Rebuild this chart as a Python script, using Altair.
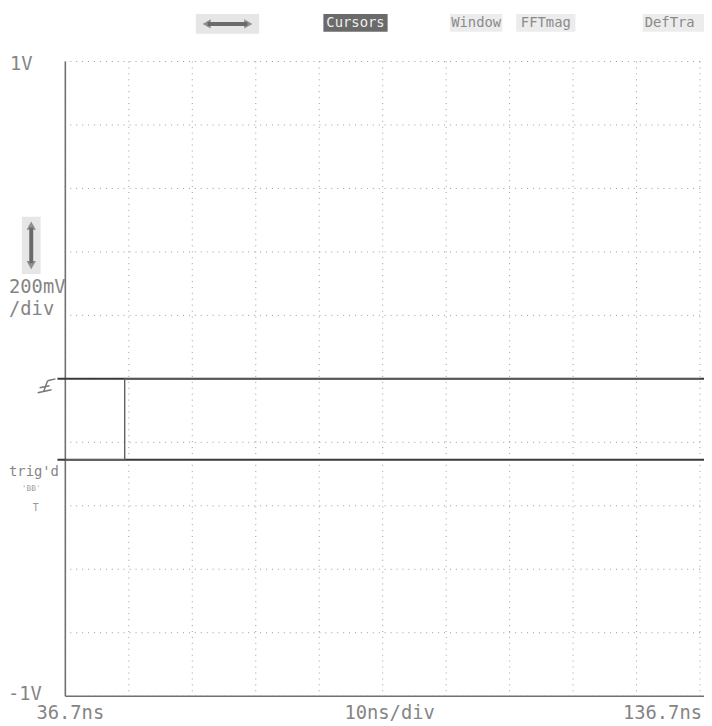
import altair as alt
import pandas as pd

# ---- data ----
time_ns = [36.7, 46.05, 46.05, 136.7]
volts = [-0.255, -0.255, 0.0, 0.0]
x_grid = [36.7, 46.7, 56.7, 66.7, 76.7, 86.7, 96.7, 106.7, 116.7, 126.7, 136.7]
y_grid = [-1.0, -0.8, -0.6, -0.4, -0.2, 0.0, 0.2, 0.4, 0.6, 0.8, 1.0]
marker_levels = [0.0, -0.255]
menu_items = ["Cursors", "Window", "FFTmag", "DefTra"]

W, H = 642, 642
xs = alt.Scale(domain=[36.7, 136.7], nice=False, zero=False)
ys = alt.Scale(domain=[-1.0, 1.0], nice=False, zero=False)

FONT = "DejaVu Sans Mono"
TXT = "#858585"

trace_df = pd.DataFrame({"t": time_ns, "v": volts, "o": list(range(len(time_ns)))})
xg_df = pd.DataFrame({"t": x_grid})
yg_df = pd.DataFrame({"v": y_grid})
mk_df = pd.DataFrame({"v": marker_levels})
one = pd.DataFrame({"a": [0]})

vgrid = alt.Chart(xg_df).mark_rule(color="#9a9a9a", strokeDash=[1, 5], strokeWidth=1).encode(
    x=alt.X("t:Q", scale=xs, axis=None))
hgrid = alt.Chart(yg_df).mark_rule(color="#9a9a9a", strokeDash=[1, 5], strokeWidth=1).encode(
    y=alt.Y("v:Q", scale=ys, axis=None))

left_border = alt.Chart(one).mark_rule(color="#707070", strokeWidth=1.6).encode(
    x=alt.value(0), y=alt.value(0), y2=alt.value(H))
bottom_border = alt.Chart(one).mark_rule(color="#707070", strokeWidth=1.6).encode(
    y=alt.value(H), x=alt.value(0), x2=alt.value(W + 4))

markers = alt.Chart(mk_df).mark_rule(color="#3a3a3a", strokeWidth=2).encode(
    y=alt.Y("v:Q", scale=ys, axis=None), x=alt.value(-8), x2=alt.value(W + 4))

trace = alt.Chart(trace_df).mark_line(color="#606060", strokeWidth=1.4, interpolate="linear").encode(
    x=alt.X("t:Q", scale=xs, axis=None),
    y=alt.Y("v:Q", scale=ys, axis=None),
    order="o:Q")


def txt(s, x, y, size=19, align="left", color=TXT, baseline="middle"):
    return alt.Chart(one).mark_text(font=FONT, fontSize=size, align=align, baseline=baseline,
                                    color=color).encode(
        x=alt.value(x), y=alt.value(y), text=alt.value(s))


labels = [
    txt("1V", -56, 3),
    txt("200mV", -57, 228),
    txt("/div", -57, 250),
    txt("trig'd", -57, 415, size=14),
    txt("T", -33, 452, size=10, color="#999999"),
    txt("-1V", -58, 640),
    txt("36.7ns", 71 - 66, 659, align="center"),
    txt("10ns/div", 394 - 66, 659, align="center"),
    txt("136.7ns", W + 2, 659, align="right"),
]


def box(x0, x1, y0, y1, fill):
    return alt.Chart(one).mark_rect(fill=fill).encode(
        x=alt.value(x0), x2=alt.value(x1), y=alt.value(y0), y2=alt.value(y1))


# top menu (relative to plot origin at page (66,58))
menu = [
    box(198 - 66, 262 - 66, 10 - 58, 30 - 58, "#e6e6e6"),
    box(327 - 66, 392 - 66, 10 - 58, 28 - 58, "#6a6a6a"),
    box(455 - 66, 508 - 66, 10 - 58, 28 - 58, "#ececec"),
    box(522 - 66, 582 - 66, 10 - 58, 28 - 58, "#ececec"),
    box(650 - 66, 720 - 66, 10 - 58, 28 - 58, "#ececec"),
    txt(menu_items[0], (327 + 392) / 2 - 66, 19 - 58, size=14, align="center", color="#eeeeee"),
    txt(menu_items[1], (455 + 508) / 2 - 66, 19 - 58, size=14, align="center", color="#8a8a8a"),
    txt(menu_items[2], (522 + 582) / 2 - 66, 19 - 58, size=14, align="center", color="#8a8a8a"),
    txt(menu_items[3], 652 - 66, 19 - 58, size=14, align="left", color="#8a8a8a"),
]

# horizontal arrow icon
harrow = [
    alt.Chart(one).mark_rule(color="#6a6a6a", strokeWidth=4).encode(
        x=alt.value(210 - 66), x2=alt.value(250 - 66), y=alt.value(20 - 58)),
    alt.Chart(one).mark_point(shape="triangle-left", filled=True, color="#6a6a6a", size=90).encode(
        x=alt.value(209 - 66), y=alt.value(20 - 58)),
    alt.Chart(one).mark_point(shape="triangle-right", filled=True, color="#6a6a6a", size=90).encode(
        x=alt.value(251 - 66), y=alt.value(20 - 58)),
]

# vertical arrow icon
varrow = [
    box(22 - 66, 41 - 66, 215 - 58, 273 - 58, "#e6e6e6"),
    alt.Chart(one).mark_rule(color="#6a6a6a", strokeWidth=4).encode(
        x=alt.value(31.5 - 66), y=alt.value(226 - 58), y2=alt.value(262 - 58)),
    alt.Chart(one).mark_point(shape="triangle-up", filled=True, color="#6a6a6a", size=90).encode(
        x=alt.value(31.5 - 66), y=alt.value(224 - 58)),
    alt.Chart(one).mark_point(shape="triangle-down", filled=True, color="#6a6a6a", size=90).encode(
        x=alt.value(31.5 - 66), y=alt.value(264 - 58)),
]

# ground symbol near 0 V marker
gnd = [
    alt.Chart(one).mark_rule(color="#777777", strokeWidth=1.5).encode(
        x=alt.value(48 - 66), x2=alt.value(56 - 66), y=alt.value(381 - 58), y2=alt.value(379 - 58)),
    alt.Chart(one).mark_rule(color="#777777", strokeWidth=1.5).encode(
        x=alt.value(48 - 66), x2=alt.value(44 - 66), y=alt.value(381 - 58), y2=alt.value(392 - 58)),
    alt.Chart(one).mark_rule(color="#777777", strokeWidth=1.5).encode(
        x=alt.value(40 - 66), x2=alt.value(50 - 66), y=alt.value(388 - 58), y2=alt.value(386 - 58)),
    alt.Chart(one).mark_rule(color="#777777", strokeWidth=1.5).encode(
        x=alt.value(38 - 66), x2=alt.value(52 - 66), y=alt.value(393 - 58), y2=alt.value(390 - 58)),
]

trig_sym = [
    txt("ꞌBBˈ", 22 - 66, 490 - 58, size=8, color="#9a9a9a"),
]

chart = alt.layer(
    vgrid, hgrid, left_border, bottom_border, markers, trace,
    *labels, *menu, *harrow, *varrow, *gnd, *trig_sym
).properties(
    width=W, height=H,
    autosize=alt.AutoSizeParams(type="none"),
    padding={"left": 58, "top": 50, "right": 4, "bottom": 24},
).configure_view(stroke=None)

chart.save("out.html", embed_options={"renderer": "svg", "actions": False})
